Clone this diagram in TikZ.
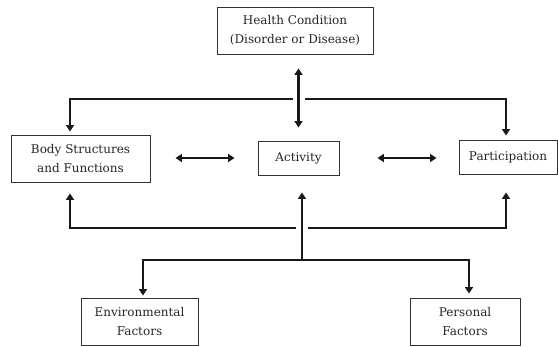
\documentclass[tikz,border=0pt]{standalone}
\usepackage{fontspec}
\setmainfont{DejaVu Serif}
\usetikzlibrary{arrows.meta,calc}
\begin{document}
\begin{tikzpicture}[x=1pt,y=-1pt,
  box/.style={draw=black!80, line width=0.9pt, rectangle, align=center, inner sep=0pt,
    font=\fontsize{12}{19}\selectfont, text=black!85},
  conn/.style={line width=2.6pt, draw=black!90},
  tip/.style={-{Triangle[length=6.5pt,width=8pt]}},
  tips/.style={{Triangle[length=6.5pt,width=8pt]}-{Triangle[length=6.5pt,width=8pt]}},
  gap/.style={draw=white, line width=4pt}]
\useasboundingbox (0,0) rectangle (558,347);
\node[box, minimum width=156pt, minimum height=47pt] (HC) at (295,30.5) {Health Condition\\(Disorder or Disease)};
\node[box, minimum width=139pt, minimum height=47pt] (BSF) at (80.5,158.5) {Body Structures\\and Functions};
\node[box, minimum width=81pt, minimum height=34pt] (Act) at (298.5,158) {Activity};
\node[box, minimum width=98pt, minimum height=34pt] (Part) at (508,157) {Participation};
\node[box, minimum width=117pt, minimum height=47pt] (Env) at (139.5,321.5) {Environmental\\Factors};
\node[box, minimum width=110pt, minimum height=47pt] (Pers) at (465,321.5) {Personal\\Factors};
% junction coordinates
\coordinate (tl) at (70,99);
\coordinate (tr) at (506,99);
\coordinate (bl) at (70,228);
\coordinate (br) at (506,228);
\coordinate (el) at (143,260);
\coordinate (er) at (469,260);
\coordinate (ev) at (302,260);
% top line
\draw[conn,tips,shorten <=3pt,shorten >=4pt] (tl |- BSF.north) -- (tl) -- (tr) -- (tr |- Part.north);
% bottom line
\draw[conn,tips,shorten <=11pt,shorten >=18pt] (bl |- BSF.south) -- (bl) -- (br) -- (br |- Part.south);
% environment line
\draw[conn,tips,shorten <=2pt,shorten >=4pt] (el |- Env.north) -- (el) -- (er) -- (er |- Pers.north);
% crossings
\draw[gap] ($(Act.north |- tl)+(-6,0)$) -- ($(Act.north |- tl)+(6,0)$);
\draw[gap] ($(ev |- bl)+(-6,0)$) -- ($(ev |- bl)+(6,0)$);
% vertical arrows
\draw[conn,tips,shorten <=14pt,shorten >=13pt] (Act.north |- HC.south) -- (Act.north);
\draw[conn,tip,shorten >=17pt] (ev) -- (ev |- Act.south);
% horizontal double arrows
\draw[conn,tips,shorten <=25pt,shorten >=23pt] (BSF.east |- Act.west) -- (Act.west);
\draw[conn,tips,shorten <=38pt,shorten >=22pt] (Act.east) -- (Act.east -| Part.west);
\end{tikzpicture}
\end{document}
